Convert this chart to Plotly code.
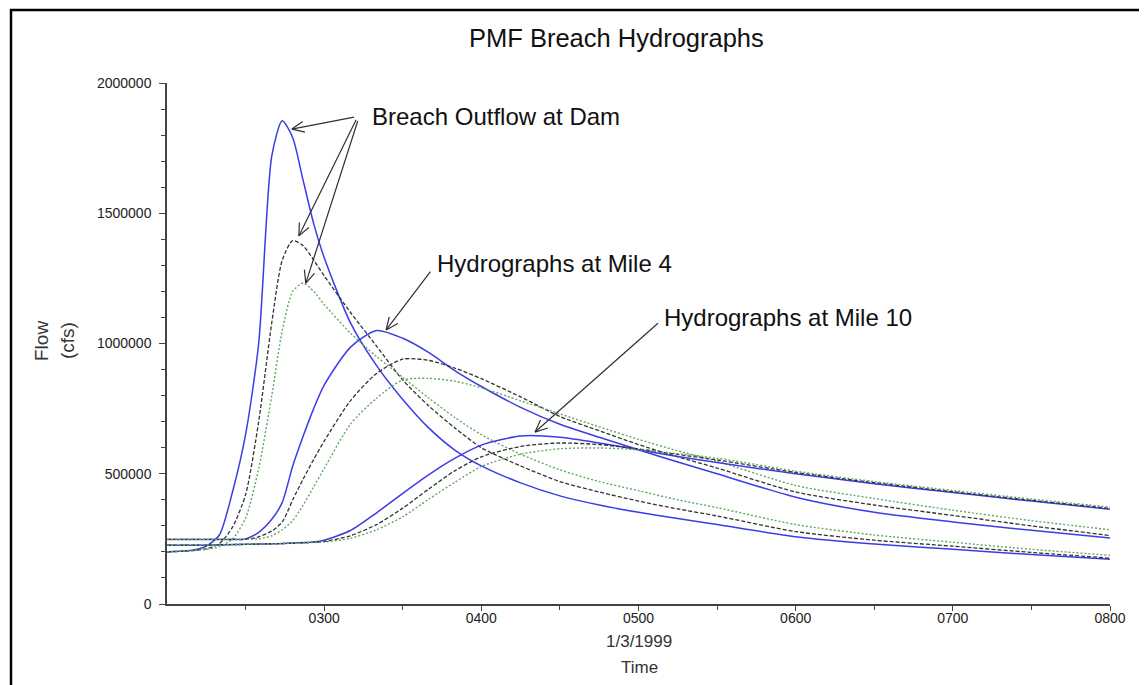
import math
import plotly.graph_objects as go

# ---------------- data ----------------
day = "1999-01-03"
times = ["02:00", "02:10", "02:15", "02:20", "02:25", "02:30", "02:35", "02:40",
         "02:44", "02:48", "02:52", "02:56", "03:00", "03:10", "03:20", "03:30",
         "03:40", "03:50", "04:00", "04:15", "04:30", "04:45", "05:00", "05:15",
         "05:30", "06:00", "06:30", "07:00", "07:30", "08:00"]

dam_blue = [200000, 207000, 222000, 265000, 430000, 650000, 1000000, 1720000,
            1855000, 1790000, 1625000, 1460000, 1330000, 1080000, 915000, 785000,
            675000, 590000, 530000, 465000, 415000, 380000, 352000, 328000,
            305000, 258000, 230000, 210000, 190000, 172000]
dam_dash = [200000, 205000, 212000, 232000, 295000, 420000, 700000, 1080000,
            1320000, 1395000, 1375000, 1320000, 1260000, 1120000, 990000, 860000,
            760000, 675000, 600000, 530000, 470000, 430000, 395000, 365000,
            338000, 278000, 245000, 222000, 198000, 176000]
dam_green = [200000, 205000, 210000, 220000, 250000, 330000, 520000, 800000,
             1050000, 1200000, 1232000, 1200000, 1150000, 1040000, 950000, 870000,
             790000, 715000, 650000, 575000, 515000, 470000, 435000, 400000,
             370000, 305000, 265000, 237000, 210000, 187000]

m4_blue = [248000, 248000, 248000, 248000, 248000, 250000, 275000, 325000,
           390000, 530000, 645000, 750000, 840000, 985000, 1050000, 1020000,
           965000, 895000, 835000, 755000, 690000, 640000, 592000, 545000,
           500000, 410000, 352000, 315000, 283000, 253000]
m4_dash = [248000, 248000, 248000, 248000, 248000, 248000, 258000, 280000,
           315000, 400000, 480000, 555000, 625000, 780000, 885000, 940000,
           935000, 905000, 865000, 795000, 720000, 665000, 612000, 565000,
           522000, 430000, 380000, 340000, 300000, 263000]
m4_green = [248000, 248000, 248000, 248000, 248000, 248000, 250000, 262000,
            285000, 320000, 380000, 450000, 520000, 690000, 790000, 860000,
            866000, 855000, 830000, 780000, 730000, 680000, 632000, 588000,
            548000, 455000, 405000, 360000, 320000, 285000]

m10_blue = [226000, 226000, 226000, 227000, 228000, 229000, 230000, 231000,
            232000, 234000, 236000, 238000, 245000, 282000, 350000, 425000,
            497000, 560000, 610000, 645000, 640000, 618000, 592000, 566000,
            543000, 500000, 462000, 428000, 395000, 364000]
m10_dash = [226000, 226000, 226000, 227000, 228000, 229000, 230000, 231000,
            232000, 233000, 235000, 237000, 240000, 262000, 305000, 368000,
            442000, 512000, 565000, 605000, 618000, 612000, 595000, 574000,
            553000, 505000, 466000, 431000, 398000, 367000]
m10_green = [226000, 226000, 226000, 227000, 228000, 229000, 230000, 231000,
             232000, 233000, 234000, 236000, 238000, 252000, 285000, 335000,
             403000, 468000, 528000, 575000, 596000, 599000, 592000, 577000,
             560000, 510000, 470000, 436000, 403000, 372000]

y_ticks = [0, 500000, 1000000, 1500000, 2000000]
x_ticks = ["03:00", "04:00", "05:00", "06:00", "07:00", "08:00"]
x_minor = ["02:30", "03:30", "04:30", "05:30", "06:30", "07:30"]

title_text = "PMF Breach Hydrographs"
label_dam = "Breach Outflow at Dam"
label_m4 = "Hydrographs at Mile 4"
label_m10 = "Hydrographs at Mile 10"

# ---------------- figure ----------------
x = [f"{day} {t}" for t in times]
BLUE = "#3c3ce6"
DARK = "#333333"
GREEN = "#5fa85f"
ARROW = "#303030"
FONT = "Liberation Sans, Arial, sans-serif"

fig = go.Figure()
styles = [
    (dam_blue, dict(color=BLUE, width=1.5)),
    (dam_dash, dict(color=DARK, width=1.3, dash="4px,2px")),
    (dam_green, dict(color=GREEN, width=1.4, dash="2px,2px")),
    (m4_blue, dict(color=BLUE, width=1.5)),
    (m4_dash, dict(color=DARK, width=1.3, dash="4px,2px")),
    (m4_green, dict(color=GREEN, width=1.4, dash="2px,2px")),
    (m10_blue, dict(color=BLUE, width=1.5)),
    (m10_dash, dict(color=DARK, width=1.3, dash="4px,2px")),
    (m10_green, dict(color=GREEN, width=1.4, dash="2px,2px")),
]
for ys, ln in styles:
    fig.add_trace(go.Scatter(x=x, y=ys, mode="lines",
                             line=dict(shape="spline", smoothing=0.7, **ln),
                             showlegend=False, hoverinfo="skip"))

def T(t):
    return f"{day} {t}"

PLOT_W, PLOT_H = 943, 521
X_SPAN_MIN, Y_SPAN = 360.0, 2000000.0

# page body has an 8px margin, so the figure is offset by 8px
fig.update_layout(
    width=1139, height=677, autosize=False,
    margin=dict(l=159, r=37, t=75, b=81, pad=0),
    paper_bgcolor="white", plot_bgcolor="white",
    font=dict(family=FONT, color="#222"),
    showlegend=False,
    xaxis=dict(type="date", range=[T("02:00"), T("08:00")],
               showline=True, linecolor="#444", linewidth=1.5,
               ticks="outside", ticklen=5, tickcolor="#444", tickwidth=1.2,
               tickmode="array", tickvals=[T(t) for t in x_ticks],
               tickformat="%H%M", tickfont=dict(size=14, color="#222"),
               ticklabelstandoff=-5,
               showgrid=False, zeroline=False,
               minor=dict(tickmode="array", tickvals=[T(t) for t in x_minor],
                          ticks="outside", ticklen=4, tickcolor="#444",
                          showgrid=False)),
    yaxis=dict(range=[0, 2000000], showline=True, linecolor="#444", linewidth=1.5,
               ticks="outside", ticklen=6, tickcolor="#444", tickwidth=1.2,
               tickmode="array", tickvals=y_ticks, tickformat="d",
               tickfont=dict(size=14, color="#222"),
               ticklabelstandoff=5,
               showgrid=False, zeroline=False,
               minor=dict(dtick=100000, ticks="outside", ticklen=4,
                          tickcolor="#444", showgrid=False)),
)

# frame around the picture
fig.add_shape(type="rect", xref="paper", yref="paper",
              x0=(11 - 167) / 943, x1=(1142 - 167) / 943,
              y0=-0.3, y1=(604 - 10) / 521,
              line=dict(color="black", width=2.5), fillcolor="rgba(0,0,0,0)",
              layer="above")

# titles
fig.add_annotation(text=title_text, xref="paper", yref="paper",
                   x=(616 - 167) / 943, y=(604 - 38) / 521,
                   xanchor="center", yanchor="middle", showarrow=False,
                   font=dict(size=25.5, color="#111", family=FONT))
for txt, px in [("Flow", 41), ("(cfs)", 67)]:
    fig.add_annotation(text=txt, xref="paper", yref="paper",
                       x=(px - 167) / 943, y=(604 - 341) / 521, textangle=-90,
                       xanchor="center", yanchor="middle", showarrow=False,
                       font=dict(size=19, color="#333", family=FONT))
for txt, py in [("1/3/1999", 641), ("Time", 667)]:
    fig.add_annotation(text=txt, xref="paper", yref="paper",
                       x=(639 - 167) / 943, y=(604 - py) / 521,
                       xanchor="center", yanchor="middle", showarrow=False,
                       font=dict(size=17, color="#333", family=FONT))

# callout labels
for txt, tx, ty in [(label_dam, "03:17:30", 1873000),
                    (label_m4, "03:42:30", 1309000),
                    (label_m10, "05:09", 1098000)]:
    fig.add_annotation(text=txt, x=T(tx), y=ty, xanchor="left", yanchor="middle",
                       showarrow=False, font=dict(size=24, color="#111", family=FONT))

# arrows (tip, tail) in data coordinates; open "V" heads drawn as two barbs
def minutes(t):
    parts = [int(p) for p in t.split(":")]
    while len(parts) < 3:
        parts.append(0)
    return (parts[0] - 2) * 60 + parts[1] + parts[2] / 60.0

arrows = [("02:47:40", 1823000, "03:12", 1870000),
          ("02:50:20", 1413000, "03:12:30", 1865000),
          ("02:53:00", 1232000, "03:13", 1860000),
          ("03:23:40", 1052000, "03:41", 1282000),
          ("04:20:30", 660000, "05:08", 1083000)]
BARB_LEN, BARB_ANG = 15.0, math.radians(24)
for tx, ty, sx, sy in arrows:
    fig.add_annotation(text="", x=T(tx), y=ty, ax=T(sx), ay=sy,
                       xref="x", yref="y", axref="x", ayref="y",
                       showarrow=True, arrowhead=0, arrowwidth=1.2,
                       arrowcolor=ARROW, standoff=0)
    dx = (minutes(sx) - minutes(tx)) * PLOT_W / X_SPAN_MIN
    dy = -(sy - ty) * PLOT_H / Y_SPAN
    n = math.hypot(dx, dy)
    ux, uy = dx / n, dy / n
    for sgn in (1, -1):
        c, s = math.cos(sgn * BARB_ANG), math.sin(sgn * BARB_ANG)
        bx = (ux * c - uy * s) * BARB_LEN
        by = (ux * s + uy * c) * BARB_LEN
        fig.add_annotation(text="", x=T(tx), y=ty, ax=bx, ay=by,
                           xref="x", yref="y",
                           showarrow=True, arrowhead=0, arrowwidth=1.2,
                           arrowcolor=ARROW, standoff=0)

fig.write_html("out.html")
